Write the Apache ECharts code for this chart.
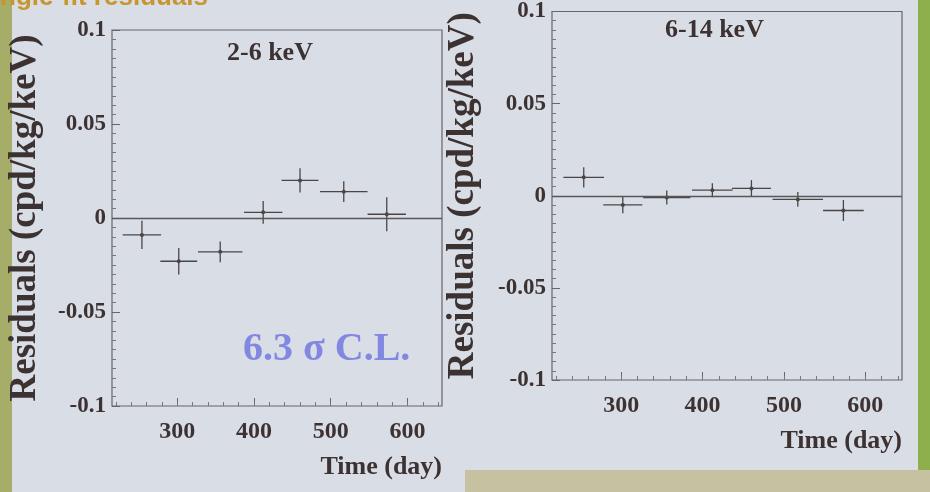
<!DOCTYPE html>
<html>
<head>
<meta charset="utf-8">
<script src="https://cdn.jsdelivr.net/npm/echarts@6/dist/echarts.min.js"></script>
<style>
html,body{margin:0;padding:0;background:#d9dde6;}
#main{width:930px;height:492px;}
</style>
</head>
<body>
<div id="main"></div>
<script>
// bins (day) shared by both panels
var days = [254, 302, 356, 412, 460, 517, 573];
var halfWidth = [25, 24, 29, 25, 24, 31, 25];
// 2-6 keV residuals and errors
var resLow = [-0.009, -0.023, -0.018, 0.003, 0.020, 0.014, 0.002];
var errLow = [0.0075, 0.007, 0.0055, 0.006, 0.0065, 0.0055, 0.009];
// 6-14 keV residuals and errors
var resHigh = [0.010, -0.005, -0.001, 0.003, 0.004, -0.002, -0.008];
var errHigh = [0.0055, 0.0045, 0.0038, 0.0038, 0.0045, 0.004, 0.0057];
var xTicks = [300, 400, 500, 600];
var xMinor = [220, 240, 260, 280, 300, 320, 340, 360, 380, 400, 420, 440, 460, 480, 500, 520, 540, 560, 580, 600, 620, 640];

var ink = '#3d3232';
var serif = 'Liberation Serif';

var pack = function (res, err) {
    var out = [];
    for (var i = 0; i < days.length; i++) {
        out.push([days[i], res[i], halfWidth[i], err[i]]);
    }
    return out;
};

var renderErr = function (params, api) {
    var x = api.value(0), y = api.value(1), dx = api.value(2), dy = api.value(3);
    var l = api.coord([x - dx, y]), r = api.coord([x + dx, y]);
    var t = api.coord([x, y + dy]), b = api.coord([x, y - dy]);
    var c = api.coord([x, y]);
    var st = {stroke: '#4a4646', lineWidth: 1.3};
    return {
        type: 'group',
        children: [
            {type: 'line', shape: {x1: l[0], y1: l[1], x2: r[0], y2: r[1]}, style: st},
            {type: 'line', shape: {x1: t[0], y1: t[1], x2: b[0], y2: b[1]}, style: st},
            {type: 'circle', shape: {cx: c[0], cy: c[1], r: 2}, style: {fill: '#4a4646'}}
        ]
    };
};

var xMajor = function (idx) {
    return {
        type: 'value', gridIndex: idx, min: 215, max: 645, position: 'bottom',
        axisLine: {show: false, onZero: false},
        axisTick: {show: true, inside: true, length: 8, customValues: xTicks, lineStyle: {color: '#666'}},
        axisLabel: {customValues: xTicks, margin: 14, color: ink, fontFamily: serif, fontWeight: 'bold', fontSize: 24},
        splitLine: {show: false},
        name: 'Time (day)', nameLocation: 'end', nameGap: 0,
        nameTextStyle: {align: 'right', verticalAlign: 'top', padding: [48, 0, 0, 0],
            color: ink, fontFamily: serif, fontWeight: 'bold', fontSize: 26}
    };
};
var xMinorAxis = function (idx) {
    return {
        type: 'value', gridIndex: idx, min: 215, max: 645, position: 'bottom',
        axisLine: {show: false, onZero: false},
        axisTick: {show: true, inside: true, length: 4, customValues: xMinor, lineStyle: {color: '#777'}},
        axisLabel: {show: false},
        splitLine: {show: false}
    };
};
var yAxis = function (idx, gap) {
    return {
        type: 'value', gridIndex: idx, min: -0.1, max: 0.1, interval: 0.05,
        axisLine: {show: false, onZero: false},
        axisTick: {show: true, inside: true, length: 8, lineStyle: {color: '#666'}},
        minorTick: {show: true, splitNumber: 10, length: 4, lineStyle: {color: '#777'}},
        axisLabel: {margin: 6, color: ink, fontFamily: serif, fontWeight: 'bold', fontSize: 23},
        splitLine: {show: false},
        name: 'Residuals (cpd/kg/keV)', nameLocation: 'middle', nameGap: gap,
        nameTextStyle: {color: ink, fontFamily: serif, fontWeight: 'bold', fontSize: 37}
    };
};

var zeroLine = {
    silent: true, symbol: 'none', label: {show: false},
    lineStyle: {color: '#5a5656', width: 1.3, type: 'solid'},
    data: [{yAxis: 0}]
};

var option = {
    backgroundColor: '#d9dde6',
    animation: false,
    grid: [
        {left: 112, top: 30, width: 330, height: 376, show: true, borderColor: '#666', borderWidth: 1.2, backgroundColor: 'transparent'},
        {left: 552, top: 8, width: 350, height: 372, show: true, borderColor: '#666', borderWidth: 1.2, backgroundColor: 'transparent'}
    ],
    xAxis: [xMajor(0), xMinorAxis(0), xMajor(1), xMinorAxis(1)],
    yAxis: [yAxis(0, 68), yAxis(1, 70)],
    graphic: [
        {type: 'rect', left: 0, top: 0, shape: {width: 12, height: 492}, style: {fill: '#a5ad68'}, z: -1},
        {type: 'rect', left: 918, top: 0, shape: {width: 12, height: 470}, style: {fill: '#8db04c'}, z: -1},
        {type: 'rect', left: 465, top: 470, shape: {width: 465, height: 22}, style: {fill: '#c6c1a0'}, z: -1},
        {type: 'text', left: 0, top: -15, style: {text: 'ngle-fit residuals', fill: '#c8962e', font: 'bold 26px Arial'}},
        {type: 'text', left: 227, top: 40, style: {text: '2-6 keV', fill: ink, font: 'bold 26px "Liberation Serif"'}},
        {type: 'text', left: 665, top: 17, style: {text: '6-14 keV', fill: ink, font: 'bold 26px "Liberation Serif"'}},
        {type: 'text', left: 243, top: 330, style: {text: '6.3 σ C.L.', fill: '#8288e2', font: 'bold 40px "Liberation Serif"'}}
    ],
    series: [
        {
            type: 'custom', xAxisIndex: 0, yAxisIndex: 0,
            renderItem: renderErr, data: pack(resLow, errLow),
            markLine: zeroLine
        },
        {
            type: 'custom', xAxisIndex: 2, yAxisIndex: 1,
            renderItem: renderErr, data: pack(resHigh, errHigh),
            markLine: zeroLine
        }
    ]
};

var chart = echarts.init(document.getElementById('main'));
chart.setOption(option);
</script>
</body>
</html>
